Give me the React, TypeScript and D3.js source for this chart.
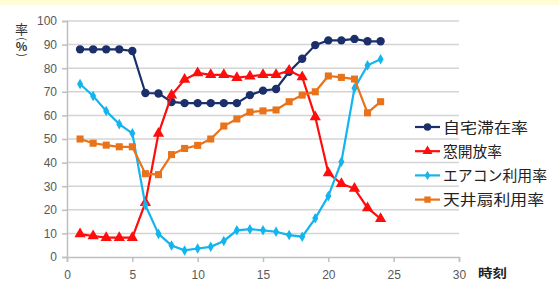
import React, { useEffect, useRef } from 'react';
import * as d3 from 'd3';

const hours = [1, 2, 3, 4, 5, 6, 7, 8, 9, 10, 11, 12, 13, 14, 15, 16, 17, 18, 19, 20, 21, 22, 23, 24];
const stayHome = [88, 88, 88, 88, 87.3, 69.5, 69.3, 65.7, 65.2, 65.2, 65.2, 65.2, 65.2, 68.6, 70.5, 71.2, 78.5, 84, 89.8, 91.8, 91.8, 92.4, 91.4, 91.4];
const windowOpen = [9.7, 8.9, 8.2, 8.2, 8.2, 23, 52.3, 68.5, 75.2, 78, 77.2, 77.2, 76, 76.6, 77.2, 77.2, 79, 76.3, 59.3, 35.6, 31, 29, 20.8, 16.2];
const aircon = [73.3, 68.2, 61.9, 56.3, 52.4, 22, 9.8, 4.9, 2.8, 3.6, 4.3, 6.8, 11.3, 11.8, 11.3, 10.7, 9.3, 8.6, 16.4, 25.8, 40.4, 71.5, 81.2, 83.8];
const ceilingFan = [50, 48.2, 47.4, 46.7, 46.7, 35.3, 34.9, 43.4, 46, 47.3, 50, 55.5, 58.5, 61.4, 61.9, 62.3, 65.8, 68.6, 70, 76.7, 76.1, 75.4, 61.1, 65.8];
const xTicks = [0, 5, 10, 15, 20, 25, 30];
const yTicks = [0, 10, 20, 30, 40, 50, 60, 70, 80, 90, 100];

const series = [
  { name: '自宅滞在率', values: stayHome, color: '#1b2f6b', symbol: d3.symbolCircle, size: 55, textW: 85 },
  { name: '窓開放率', values: windowOpen, color: '#ff0d0d', symbol: d3.symbolTriangle, size: 55, textW: 59 },
  { name: 'エアコン利用率', values: aircon, color: '#14b4ee', symbol: d3.symbolDiamond, size: 32, textW: 104 },
  { name: '天井扇利用率', values: ceilingFan, color: '#e8731a', symbol: d3.symbolSquare, size: 50, textW: 101 },
];

export default function App() {
  const svgRef = useRef<SVGSVGElement>(null);

  useEffect(() => {
    const width = 559;
    const height = 287;
    const svg = d3.select(svgRef.current).attr('width', width).attr('height', height);
    svg.selectAll('*').remove();

    const x = d3.scaleLinear().domain([0, 30]).range([67, 459]);
    const y = d3.scaleLinear().domain([0, 100]).range([257, 21]);
    const numFont = '"Liberation Sans", Arial, sans-serif';
    const jpFont = '"Noto Sans CJK JP", sans-serif';

    svg.append('rect').attr('width', width).attr('height', height).attr('fill', '#fff');
    svg.append('rect').attr('width', width).attr('height', 5).attr('fill', '#fffcd6');

    // gridlines
    svg.append('g')
      .selectAll('line')
      .data(yTicks.filter(d => d > 0))
      .enter()
      .append('line')
      .attr('x1', x(0))
      .attr('x2', x(30))
      .attr('y1', d => y(d))
      .attr('y2', d => y(d))
      .attr('stroke', '#d4d4d4')
      .attr('stroke-width', 1.5);

    const yAxis = svg.append('g')
      .attr('transform', `translate(${x(0)},0)`)
      .call(d3.axisLeft(y).tickValues(yTicks).tickSize(5).tickPadding(5));
    const xAxis = svg.append('g')
      .attr('transform', `translate(0,${y(0)})`)
      .call(d3.axisBottom(x).tickValues(xTicks).tickSize(5).tickPadding(8));
    [yAxis, xAxis].forEach(ax => {
      ax.select('.domain').attr('stroke', '#bfbfbf').attr('stroke-width', 1.5);
      ax.selectAll('.tick line').attr('stroke', '#bfbfbf').attr('stroke-width', 1.5);
      ax.selectAll('.tick text')
        .attr('fill', '#595959')
        .style('font-family', numFont)
        .style('font-size', '12px');
    });

    // y title, stacked vertically: 率 ( % ) with the parens turned
    const yt = svg.append('g')
      .style('font-family', jpFont)
      .attr('fill', '#333')
      .attr('text-anchor', 'middle');
    yt.append('text').attr('x', 21.5).attr('y', 34).style('font-size', '13px').text('率');
    yt.append('text')
      .attr('transform', 'translate(21.5,39) rotate(90)')
      .attr('dy', '0.35em')
      .style('font-size', '11px')
      .text('(');
    yt.append('text').attr('x', 21.5).attr('y', 51).style('font-size', '12px').style('font-weight', 'bold').text('%');
    yt.append('text')
      .attr('transform', 'translate(21.5,55) rotate(90)')
      .attr('dy', '0.35em')
      .style('font-size', '11px')
      .text(')');

    svg.append('text')
      .attr('x', 478)
      .attr('y', 278)
      .attr('textLength', 29)
      .attr('lengthAdjust', 'spacingAndGlyphs')
      .style('font-family', jpFont)
      .style('font-size', '12px')
      .style('font-weight', 'bold')
      .attr('fill', '#222')
      .text('時刻');

    const line = d3.line<number>()
      .x((_, i) => x(hours[i]))
      .y(d => y(d));

    series.forEach(s => {
      const g = svg.append('g');
      g.append('path')
        .attr('d', line(s.values))
        .attr('fill', 'none')
        .attr('stroke', s.color)
        .attr('stroke-width', 2.2);
      g.selectAll('path.m')
        .data(s.values)
        .enter()
        .append('path')
        .attr('class', 'm')
        .attr('transform', (d, i) => `translate(${x(hours[i])},${y(d)})`)
        .attr('d', d3.symbol().type(s.symbol).size(s.size)())
        .attr('fill', s.color);
    });

    // legend
    const legend = svg.append('g');
    series.forEach((s, i) => {
      const ly = 127 + i * 24.2;
      legend.append('line')
        .attr('x1', 415)
        .attr('x2', 440)
        .attr('y1', ly)
        .attr('y2', ly)
        .attr('stroke', s.color)
        .attr('stroke-width', 2.2);
      legend.append('path')
        .attr('transform', `translate(427.5,${ly})`)
        .attr('d', d3.symbol().type(s.symbol).size(s.size * 0.8)())
        .attr('fill', s.color);
      legend.append('text')
        .attr('x', 443)
        .attr('y', ly + 5.5)
        .attr('textLength', s.textW)
        .attr('lengthAdjust', 'spacingAndGlyphs')
        .style('font-family', jpFont)
        .style('font-size', '15px')
        .attr('fill', '#222')
        .text(s.name);
    });
  }, []);

  return (
    <svg ref={svgRef} style={{ position: 'absolute', left: 0, top: 0, display: 'block' }} />
  );
}
